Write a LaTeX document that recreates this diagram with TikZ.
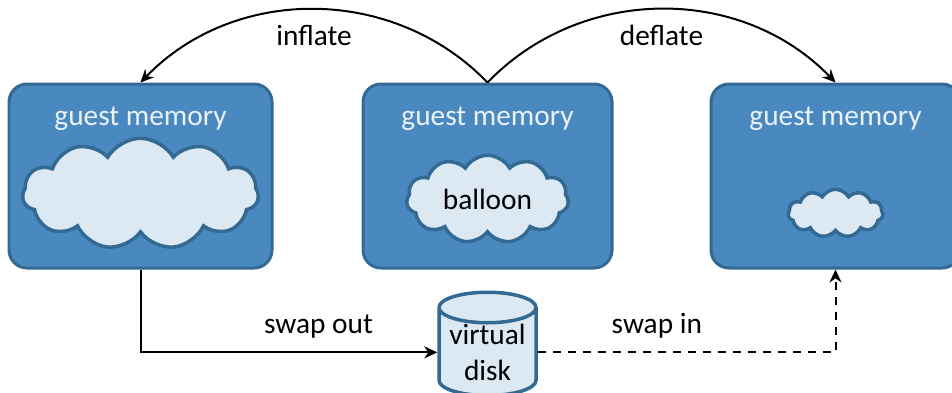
\documentclass[tikz,border=0pt]{standalone}
\usepackage{fontspec}
\setmainfont{Carlito}
\usetikzlibrary{positioning,arrows.meta,shapes.symbols,shapes.geometric}
\definecolor{boxblue}{HTML}{4A89BF}
\definecolor{edgeblue}{HTML}{336A94}
\definecolor{paleblue}{HTML}{DCE8F2}
\tikzset{
	every path/.style = {line width=0.04cm},
	every node/.style = {font=\fontsize{16.7}{20}\selectfont},
	membox/.style={draw=edgeblue,fill=boxblue,line width=0.06cm,rounded corners=0.36cm,minimum height=3.68cm},
	memlabel/.style={text=paleblue!60!white,inner sep=0pt},
	puff/.style={cloud,draw=edgeblue,fill=paleblue,line width=0.07cm,cloud ignores aspect,cloud puff arc=120,inner sep=0pt,cloud puffs=11},
	diskshape/.style={cylinder,shape border rotate=90,aspect=0.4,draw=edgeblue,fill=paleblue,line width=0.07cm,inner sep=0pt,minimum width=1.94cm,minimum height=2.02cm,align=center},
	conn/.style={-{Stealth[length=0.26cm,width=0.24cm]}}
}

\begin{document}
\begin{tikzpicture}
		\useasboundingbox (0,0) rectangle (19.04,-7.84);
		\node[membox, minimum width=5.26cm] (g1) at (2.81,-3.52) {};
		\node[membox, minimum width=4.98cm, right=1.76cm of g1] (g2) {};
		\node[membox, minimum width=4.98cm, right=1.92cm of g2] (g3) {};
		\node[memlabel, below=0.47cm of g1.north] (t1) {guest memory};
		\node[memlabel, below=0.47cm of g2.north] (t2) {guest memory};
		\node[memlabel, below=0.47cm of g3.north] (t3) {guest memory};
		\node[puff, minimum width=4.72cm, minimum height=2.22cm, below=1.08cm of g1.north] (c1) {};
		\node[puff, minimum width=3.24cm, minimum height=1.76cm, below=1.42cm of g2.north] (c2) {balloon};
		\node[puff, minimum width=1.9cm, minimum height=0.96cm, below=2.1cm of g3.north] (c3) {};
		\node[diskshape, below=0.42cm of g2] (disk) {virtual\\[0pt]disk};
		\path[conn]
			(g2.north) edge [bend right=46] node[pos=0.5,below=0.3cm,inner sep=0pt] (inflate) {inflate} (g1.north)
			(g2.north) edge [bend left=46] node[pos=0.5,below=0.3cm,inner sep=0pt] (deflate) {deflate} (g3.north);
		\draw[conn] (g1.south) |- node[pos=0.8,above=0.27cm,inner sep=0pt] (out) {swap out} (disk.west);
		\draw[conn,dash pattern=on 0.17cm off 0.13cm] (disk.east) -| node[pos=0.2,above=0.27cm,inner sep=0pt] (in) {swap in} (g3.south);
	\end{tikzpicture}
\end{document}
